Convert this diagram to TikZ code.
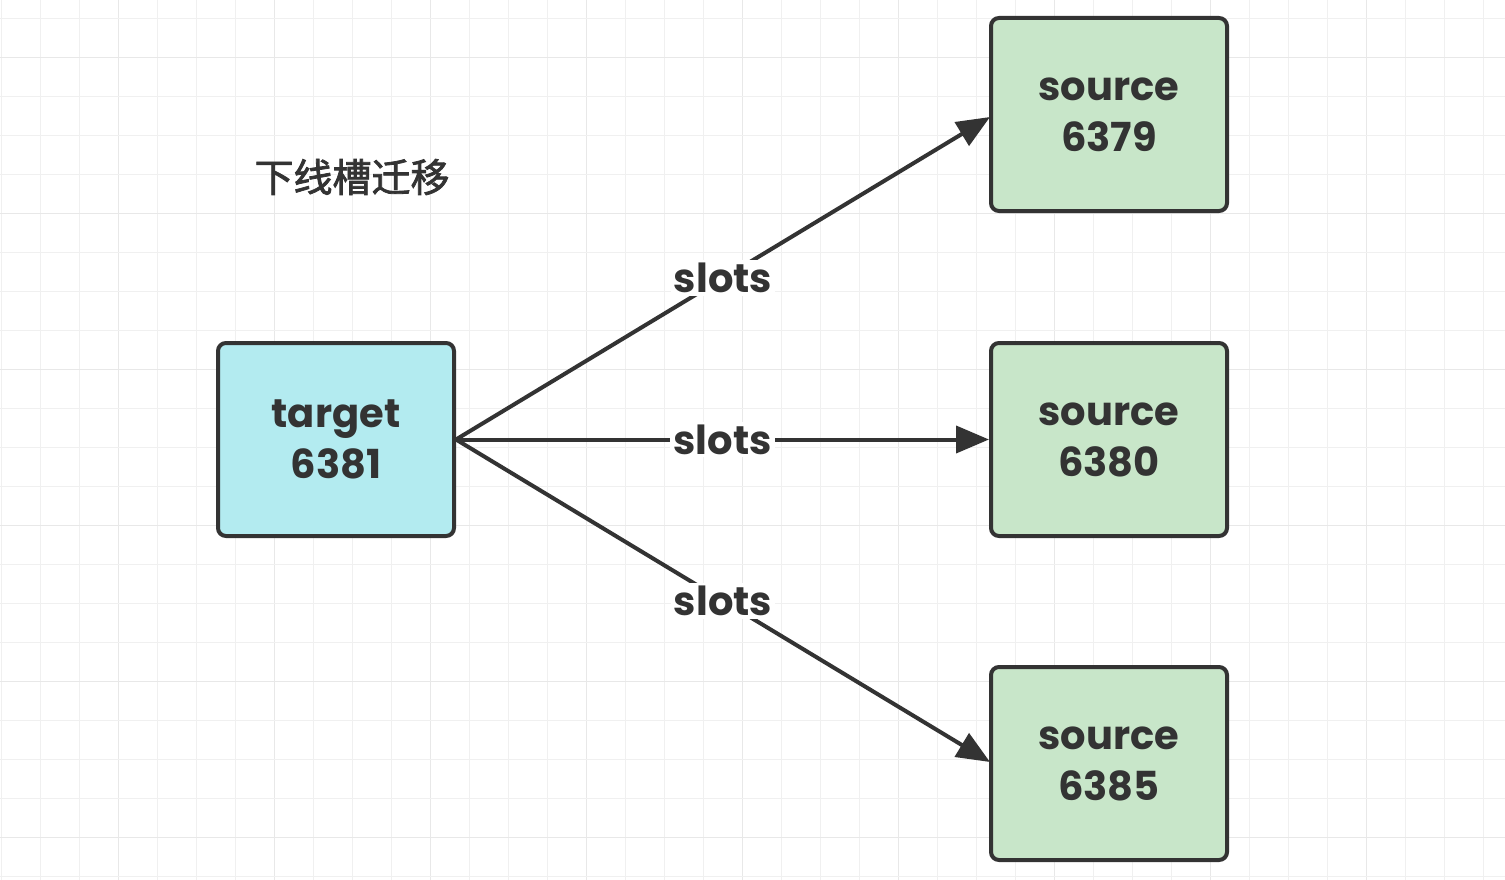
\documentclass[tikz,border=0pt]{standalone}
\usepackage{fontspec}
\setmainfont{Poppins}
\newfontfamily\cjk[FakeBold=2]{Noto Sans CJK SC}
\usetikzlibrary{arrows.meta}
\definecolor{ink}{HTML}{333333}
\definecolor{cyanfill}{HTML}{B3EBF0}
\definecolor{greenfill}{HTML}{C8E6C9}
\definecolor{gridminor}{HTML}{F0F0F0}
\definecolor{gridmajor}{HTML}{E8E8E8}
\tikzset{
  box/.style={draw=ink, line width=4pt, rounded corners=8pt, minimum width=236pt, minimum height=193pt, align=center, text=ink, font=\fontsize{40}{54}\selectfont\bfseries},
  conn/.style={draw=ink, line width=4pt, -{Triangle[length=33pt,width=27pt]}},
  lbl/.style={fill=white, text=ink, inner sep=3pt, font=\fontsize{40}{48}\selectfont\bfseries}
}
\begin{document}
\begin{tikzpicture}[x=1pt,y=-1pt]
\useasboundingbox (0,0) rectangle (1505,880);
\fill[white] (0,0) rectangle (1505,880);
% grid
\foreach \k in {0,...,38}{
  \pgfmathsetmacro{\xx}{1+39*\k}
  \pgfmathtruncatemacro{\m}{mod(\k,4)}
  \ifnum\m=3 \draw[gridmajor,line width=1pt] (\xx,0) -- (\xx,880);
  \else \draw[gridminor,line width=1pt] (\xx,0) -- (\xx,880); \fi
}
\foreach \k in {0,...,22}{
  \pgfmathsetmacro{\yy}{18.3+39*\k}
  \pgfmathtruncatemacro{\m}{mod(\k,4)}
  \ifnum\m=1 \draw[gridmajor,line width=1pt] (0,\yy) -- (1505,\yy);
  \else \draw[gridminor,line width=1pt] (0,\yy) -- (1505,\yy); \fi
}
\node[text=ink, font=\cjk\fontsize{39}{39}\selectfont, inner sep=0pt] (title) at (352,177) {下线槽迁移};
\node[box, fill=cyanfill] (t) at (336,439.5) {\raisebox{-3pt}{target}\\6381};
\node[box, fill=greenfill] (s1) at (1109,114.5) {\raisebox{-3pt}{source}\\6379};
\node[box, fill=greenfill] (s2) at (1109,439.5) {\raisebox{-3pt}{source}\\6380};
\node[box, fill=greenfill] (s3) at (1109,763.5) {\raisebox{-3pt}{source}\\6385};
\coordinate (e1) at (990,117);
\coordinate (e3) at (990,762);
\draw[conn] (t.east) -- node[lbl] (l1) {slots} (e1);
\draw[conn] (t.east) -- node[lbl] (l2) {slots} (s2.west);
\draw[conn] (t.east) -- node[lbl] (l3) {slots} (e3);
\end{tikzpicture}
\end{document}
